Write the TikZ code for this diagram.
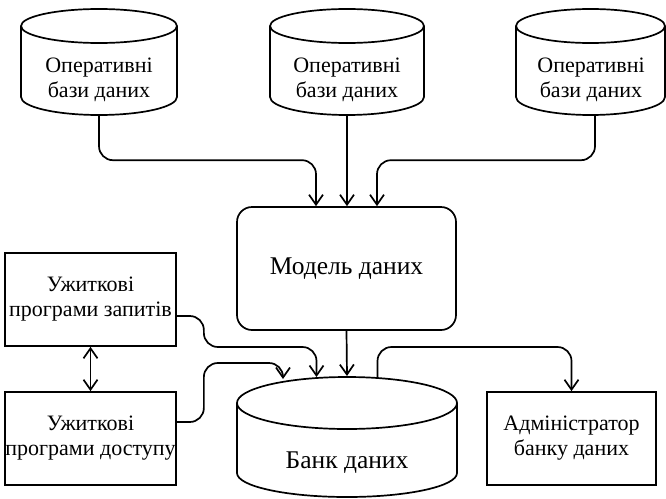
\documentclass[tikz,border=0pt]{standalone}
\usepackage{fontspec}
\setmainfont{Liberation Serif}
\usetikzlibrary{arrows.meta}

% database cylinder: left x, right x, top ellipse centre y, top y-radius, bottom y, bottom y-radius
\newcommand\dbshape[6]{%
  \draw[outl] ({(#1+#2)/2},#3) ellipse[x radius={(#2-#1)/2*1pt}, y radius=#4pt];
  \draw[outl] (#1,#3) -- (#1,#5)
    arc[start angle=180, end angle=360, x radius={(#2-#1)/2*1pt}, y radius=#6pt]
    -- (#2,#3);
}

\tikzset{
  outl/.style={line width=1.7pt},
  tip/.tip={Straight Barb[length=10pt,width=14pt,line width=1.7pt]},
  conn/.style={outl, rounded corners=14pt, -tip},
  small/.style={font=\fontsize{22}{25}\selectfont, align=center, inner sep=0pt},
  large/.style={font=\fontsize{25.5}{29}\selectfont, align=center, inner sep=0pt},
  dbtext/.style={small, minimum width=150pt, minimum height=70pt},
  progbox/.style={small, draw, outl, minimum width=171pt, minimum height=93pt},
}

\begin{document}
\begin{tikzpicture}[x=1pt, y=-1pt]
  \useasboundingbox (0,0) rectangle (666,498);

  % source databases
  \dbshape{21}{177}{26}{17}{97}{18}
  \dbshape{270}{424}{26}{17}{97}{18}
  \dbshape{516}{665}{26}{17}{97}{18}
  \node[dbtext] (op1) at (99,80)  {Оперативні\\бази даних};
  \node[dbtext] (op2) at (347,80) {Оперативні\\бази даних};
  \node[dbtext] (op3) at (591,80) {Оперативні\\бази даних};

  % data model
  \node[large, draw, outl, rounded corners=15pt, minimum width=219pt, minimum height=123pt]
    (model) at (346.5,268.5) {Модель даних};

  % data bank
  \dbshape{237}{457}{403}{26}{473}{24}
  \node[large, minimum width=220pt, minimum height=68pt] (bank) at (347,463) {Банк даних};

  % application programs and administrator
  \node[progbox] (query)  at (90.5,299.5) {Ужиткові\\програми запитів};
  \node[progbox] (access) at (90.5,438.5) {Ужиткові\\програми доступу};
  \node[progbox, minimum width=169pt] (admin) at (571.5,438.5) {Адміністратор\\банку даних};

  % points on the top rim of the bank
  \coordinate (bA) at ([xshift=-64pt, yshift=84pt]bank.center);
  \coordinate (bQ) at ([xshift=-30.5pt, yshift=86pt]bank.center);
  \coordinate (bM) at ([yshift=87pt]bank.center);
  \coordinate (bD) at ([xshift=30.5pt, yshift=85pt]bank.center);

  % databases into the model
  \draw[conn] (op1.south) -- ++(0,45) -| ([xshift=-30.5pt]model.north);
  \draw[conn] (op2.south) -- (op2.south |- model.north);
  \draw[conn] ([xshift=4pt]op3.south) -- ++(0,45) -| ([xshift=30.5pt]model.north);

  % model into the bank
  \draw[conn] (model.south) -- (bM);

  % programs into the bank
  \draw[conn] ([yshift=-16.5pt]query.east) -| ++(27,31) -| (bQ);
  \draw[conn] ([yshift=16.5pt]access.east) -| ++(27,-59) -| (bA);

  % bank to administrator
  \draw[conn] (bD) -- ++(0,-31) -| (admin.north);

  % between the two program boxes
  \draw[outl, tip-tip] (query.south) -- (access.north);
\end{tikzpicture}
\end{document}
